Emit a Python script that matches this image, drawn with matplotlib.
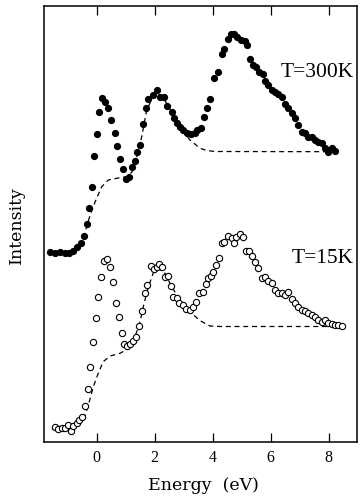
import matplotlib
matplotlib.use("Agg")
import matplotlib.pyplot as plt
import numpy as np

# 300 K, dolu daireler (enerji eV, şiddet keyfi birim)
e_300 = [-1.60, -1.43, -1.26, -1.09, -0.94, -0.80, -0.66, -0.54, -0.43, -0.34,
         -0.25, -0.17, -0.08, 0.03, 0.10, 0.20, 0.29, 0.41, 0.50, 0.63,
         0.72, 0.81, 0.92, 1.02, 1.11, 1.21, 1.33, 1.41, 1.50, 1.61,
         1.71, 1.79, 1.96, 2.10, 2.19, 2.33, 2.44, 2.59, 2.67, 2.77,
         2.88, 2.99, 3.11, 3.25, 3.40, 3.48, 3.60, 3.71, 3.82, 3.91,
         4.06, 4.20, 4.32, 4.40, 4.52, 4.64, 4.75, 4.86, 4.97, 5.12,
         5.20, 5.29, 5.41, 5.50, 5.61, 5.73, 5.81, 5.92, 6.04, 6.16,
         6.27, 6.39, 6.50, 6.61, 6.73, 6.84, 6.96, 7.08, 7.19, 7.30,
         7.42, 7.53, 7.65, 7.77, 7.88, 7.99, 8.11, 8.22]
i_300 = [19.03, 18.93, 18.97, 18.93, 18.87, 19.13, 19.53, 19.87, 20.6, 21.8,
         23.37, 25.47, 28.6, 30.8, 33.03, 34.43, 34.03, 33.37, 32.2, 30.87,
         29.63, 28.3, 27.27, 26.3, 26.53, 27.47, 28.1, 29.03, 29.7, 31.8,
         33.37, 34.27, 34.7, 35.2, 34.53, 34.47, 33.6, 33.03, 32.37, 31.87,
         31.53, 31.2, 30.93, 30.77, 30.87, 31.2, 31.37, 32.53, 33.37, 34.27,
         36.37, 37.03, 38.8, 39.27, 40.27, 40.8, 40.8, 40.47, 40.2, 40.13,
         39.7, 38.27, 37.7, 37.53, 37.03, 36.8, 36.1, 35.7, 35.2, 35.03,
         34.77, 34.53, 33.77, 33.37, 32.87, 32.37, 31.7, 31.03, 30.87, 30.53,
         30.53, 30.2, 30.03, 29.87, 29.37, 29.03, 29.37, 29.13]

# 300 K kesikli çizgi (arka plan)
e_300_bg = [-0.81, -0.57, -0.40, -0.22, -0.05, 0.18, 0.41, 0.81, 1.05, 1.22,
            1.39, 1.56, 1.71, 1.90, 2.08, 2.26, 2.47, 2.71, 2.95, 3.22,
            3.57, 3.80, 4.09, 8.16]
i_300_bg = [19.1, 19.6, 20.9, 22.7, 24.0, 25.53, 26.2, 26.43, 26.53, 27.0,
            28.53, 30.53, 32.9, 34.37, 34.87, 34.6, 33.6, 32.4, 31.2, 30.2,
            29.37, 29.15, 29.05, 29.03]

# 15 K, boş daireler
e_15 = [-1.43, -1.32, -1.20, -1.09, -0.97, -0.89, -0.80, -0.68, -0.59, -0.51,
        -0.40, -0.30, -0.22, -0.13, -0.02, 0.06, 0.17, 0.27, 0.37, 0.47,
        0.56, 0.67, 0.77, 0.87, 0.96, 1.06, 1.16, 1.25, 1.36, 1.47,
        1.56, 1.67, 1.75, 1.87, 1.98, 2.08, 2.16, 2.25, 2.36, 2.46,
        2.56, 2.65, 2.77, 2.86, 2.97, 3.09, 3.22, 3.34, 3.43, 3.54,
        3.66, 3.77, 3.86, 3.95, 4.03, 4.12, 4.23, 4.32, 4.41, 4.54,
        4.66, 4.74, 4.81, 4.95, 5.04, 5.16, 5.27, 5.35, 5.47, 5.58,
        5.70, 5.81, 5.92, 6.04, 6.16, 6.27, 6.39, 6.50, 6.61, 6.73,
        6.84, 6.96, 7.08, 7.19, 7.30, 7.42, 7.53, 7.65, 7.77, 7.88,
        7.99, 8.11, 8.22, 8.34, 8.46]
i_15 = [1.47, 1.3, 1.37, 1.37, 1.7, 1.1, 1.6, 1.87, 2.2, 2.53,
        3.6, 5.27, 7.53, 10.03, 12.37, 14.47, 16.47, 18.13, 18.3, 17.53,
        16.03, 13.87, 12.47, 10.87, 9.77, 9.63, 9.8, 10.13, 10.47, 11.6,
        13.13, 14.93, 15.7, 17.63, 17.3, 17.53, 17.8, 17.47, 16.53, 16.6,
        15.6, 14.47, 14.37, 13.93, 13.7, 13.3, 13.2, 13.53, 14.03, 14.87,
        14.97, 15.77, 16.43, 16.6, 17.03, 17.7, 18.37, 19.93, 20.03, 20.6,
        20.37, 19.93, 20.47, 20.8, 20.47, 19.13, 19.13, 18.63, 18.03, 17.37,
        16.37, 16.47, 16.13, 15.87, 15.2, 14.93, 14.93, 14.7, 15.03, 14.27,
        13.93, 13.47, 13.2, 13.13, 12.93, 12.7, 12.53, 12.2, 12.03, 12.2,
        11.93, 11.8, 11.7, 11.7, 11.6]

# 15 K kesikli çizgi
e_15_bg = [-1.54, -0.91, -0.57, -0.40, -0.28, -0.11, 0.06, 0.23, 0.47, 0.81,
           1.06, 1.33, 1.50, 1.64, 1.79, 1.96, 2.13, 2.36, 2.59, 2.88,
           3.22, 3.57, 3.91, 4.26, 8.43]
i_15_bg = [1.3, 1.4, 1.8, 2.6, 3.7, 5.53, 6.87, 8.03, 8.6, 8.87,
           9.27, 10.53, 12.03, 13.87, 15.53, 16.93, 17.37, 16.87, 15.53, 14.2,
           13.03, 12.13, 11.6, 11.55, 11.55]

xticks = [0, 2, 4, 6, 8]
labels = ["T=300K", "T=15K"]

fig = plt.figure(figsize=(3.61, 4.97), dpi=100)
ax = fig.add_axes([44 / 361, 1 - 442 / 497, 313 / 361, 436 / 497])

ax.plot(e_300_bg, i_300_bg, color="black", lw=0.9, ls=(0, (4, 3)))
ax.plot(e_15_bg, i_15_bg, color="black", lw=0.9, ls=(0, (4, 3)))
ax.plot(e_300, i_300, "o", color="black", ms=4.2, mec="black")
ax.plot(e_15, i_15, "o", mfc="white", mec="black", ms=4.5, mew=0.8)

ax.set_xlim(-1.81, 8.98)
ax.set_ylim(0, 43.6)
ax.set_xticks(xticks)
ax.set_xticklabels([str(t) for t in xticks], family="Liberation Serif", fontsize=11.5)
ax.set_yticks([])
ax.tick_params(axis="x", direction="in", top=True, length=6.5, width=0.9, pad=6)
for s in ax.spines.values():
    s.set_linewidth(1.1)

ax.text(8.88, 37.0, labels[0], ha="right", va="center", family="Liberation Serif", fontsize=15.5)
ax.text(8.88, 18.4, labels[1], ha="right", va="center", family="Liberation Serif", fontsize=15.5)

fig.text(203 / 361, 1 - 485 / 497, "Energy  (eV)", ha="center", va="center",
         family="DejaVu Serif", fontsize=12.5)
fig.text(16 / 361, 1 - 225 / 497, "Intensity", ha="center", va="center",
         rotation=90, family="DejaVu Serif", fontsize=12.5)

fig.savefig("out.png", dpi=100)
